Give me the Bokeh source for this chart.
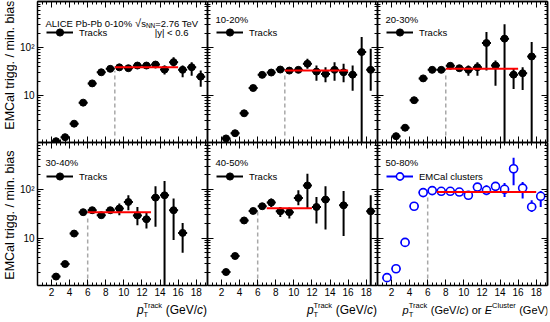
import math
import numpy as np
from bokeh.plotting import figure
from bokeh.layouts import gridplot
from bokeh.models import LinearAxis, LogAxis, FixedTicker, Label, Legend, LegendItem, Range1d
from bokeh.embed import file_html
from bokeh.resources import INLINE

# ------------------------------------------------------------------ data
centrality = ["0-10%", "10-20%", "20-30%", "30-40%", "40-50%", "50-80%"]
bin_half = 0.5

x_c0 = [2.5, 3.5, 4.5, 5.5, 6.5, 7.5, 8.5, 9.5, 10.5, 11.5, 12.5, 13.5, 14.5, 15.5, 16.5, 17.5, 18.5]
y_c0 = [1.14, 1.38, 2.63, 7.2, 18.1, 30.8, 36.3, 39.0, 37.4, 42.5, 42.5, 44.6, 35.0, 50.0, 34.6, 39.2, 25.0]
lo_c0 = [1.08, 1.31, 2.52, 6.9, 17.3, 29.4, 34.5, 36.8, 35.0, 39.6, 39.4, 40.8, 27.6, 40.5, 24.2, 26.2, 15.5]
hi_c0 = [1.2, 1.45, 2.74, 7.5, 18.9, 32.2, 38.1, 41.2, 39.8, 45.4, 45.6, 48.4, 42.6, 63.5, 42.6, 49.9, 33.4]

x_c1 = [2.5, 3.5, 4.5, 5.5, 6.5, 7.5, 8.5, 9.5, 10.5, 11.5, 12.5, 13.5, 14.5, 15.5, 16.5, 17.5, 18.5]
y_c1 = [1.30, 1.67, 4.33, 14.5, 27.2, 30.4, 35.1, 33.4, 34.6, 46.3, 31.8, 28.5, 34.6, 30.8, 27.5, 81.0, 34.6]
lo_c1 = [1.24, 1.6, 4.15, 13.9, 26.0, 29.0, 33.0, 30.5, 31.5, 36.3, 20.6, 19.0, 20.6, 19.0, 12.7, 0.5, 12.7]
hi_c1 = [1.36, 1.74, 4.5, 15.1, 28.4, 31.8, 37.2, 36.5, 38.0, 58.8, 42.6, 39.2, 49.9, 46.2, 42.6, 167.0, 95.3]

x_c2 = [2.5, 3.5, 4.5, 5.5, 6.5, 7.5, 8.5, 9.5, 10.5, 11.5, 12.5, 13.5, 14.5, 15.5, 16.5, 17.5]
y_c2 = [1.45, 2.17, 8.1, 23.0, 34.6, 34.6, 42.0, 37.4, 34.6, 39.2, 125.0, 42.5, 154.0, 27.5, 29.4, 65.6]
lo_c2 = [1.38, 2.06, 7.8, 22.0, 33.0, 33.0, 39.0, 34.0, 26.2, 26.2, 33.4, 16.2, 0.5, 13.8, 13.2, 0.5]
hi_c2 = [1.52, 2.28, 8.4, 24.0, 36.3, 36.3, 45.0, 41.0, 42.6, 49.9, 212.0, 54.2, 308.0, 36.3, 39.2, 131.0]

x_c3 = [2.5, 3.5, 4.5, 5.5, 6.5, 7.5, 8.5, 9.5, 10.5, 11.5, 12.5, 13.5, 14.5, 15.5, 16.5]
y_c3 = [1.63, 2.95, 12.4, 34.0, 37.3, 29.5, 37.3, 40.4, 55.0, 29.1, 24.4, 67.6, 75.5, 37.3, 12.8]
lo_c3 = [1.55, 2.8, 11.8, 32.5, 35.5, 28.0, 31.9, 29.5, 37.3, 18.4, 15.8, 17.0, 0.5, 9.1, 5.0]
hi_c3 = [1.71, 3.1, 13.0, 35.5, 39.1, 31.0, 43.5, 51.0, 75.5, 43.5, 34.4, 115.0, 148.0, 64.5, 20.5]

x_c4 = [2.5, 3.5, 4.5, 5.5, 6.5, 7.5, 8.5, 9.5, 10.5, 11.5, 12.5, 13.5, 15.5, 18.5]
y_c4 = [2.02, 4.3, 23.0, 36.0, 45.0, 53.5, 35.5, 34.0, 66.5, 120.0, 43.5, 61.6, 47.0, 35.5]
lo_c4 = [1.92, 4.1, 22.0, 34.5, 43.0, 43.5, 27.2, 25.2, 47.1, 40.4, 20.0, 15.1, 11.0, 0.5]
hi_c4 = [2.12, 4.5, 24.0, 37.5, 47.0, 64.5, 43.5, 42.4, 95.5, 209.0, 69.7, 115.0, 92.2, 75.5]

x_c5 = [1.5, 2.5, 3.5, 4.5, 5.5, 6.5, 7.5, 8.5, 9.5, 10.5, 11.5, 12.5, 13.5, 14.5, 15.5, 16.5, 17.5, 18.5]
y_c5 = [1.55, 2.36, 8.17, 45.0, 85.7, 94.0, 91.0, 91.0, 88.0, 75.5, 111.0, 95.5, 115.0, 100.0, 264.0, 106.0, 43.5, 72.0]
lo_c5 = [1.5, 2.28, 7.9, 43.5, 83.0, 91.0, 88.0, 88.0, 85.0, 72.5, 88.0, 75.5, 88.0, 69.7, 121.0, 64.5, 34.4, 43.5]
hi_c5 = [1.6, 2.44, 8.45, 46.5, 88.5, 97.0, 94.0, 94.0, 91.0, 78.5, 131.0, 121.0, 141.0, 134.0, 443.0, 141.0, 59.7, 92.2]

fit_lo = [9, 9, 8, 6, 7, 7]
fit_hi = [16, 16, 16, 13, 12, 18]
fit_val = [39.0, 33.4, 36.3, 34.0, 40.8, 88.0]
threshold = [9, 9, 8, 6, 6, 6]

series_label = ["Tracks", "Tracks", "Tracks", "Tracks", "Tracks", "EMCal clusters"]

x_ticks = [2, 4, 6, 8, 10, 12, 14, 16, 18]
x_minor = [v / 2 for v in range(1, 39) if v % 4 != 0]
y_major = [1, 10, 100, 1000]
y_minor = [m * d for d in (1, 10, 100) for m in range(2, 10)]
y_labels = {10: "10", 100: "10\u00b2"}

X_RANGE = (0.45, 19.25)
Y_RANGE = (1.07, 910.0)

# ------------------------------------------------------------------ style / layout
FONT = "Liberation Sans"
FRAME_W = 170
FRAME_H = [141, 143]
STRIP_W = 17
B_LEFT, B_RIGHT, B_TOP, B_BOTTOM = 20, 2, 1, 14
TITLE_H = 22
HEADER_OFF = [18, 20]
LEGEND_OFF = [31, 34]
YTITLE_GAP = [-1, 8]

CW = {" ": 278, "(": 333, ")": 333, "/": 278, ".": 278, "-": 333, "%": 889, "=": 584,
      "|": 260, "<": 584, "A": 667, "C": 722, "E": 667, "G": 778, "I": 278, "L": 556,
      "P": 667, "T": 611, "V": 667, "N": 722, "a": 556, "b": 556, "c": 500, "e": 556,
      "i": 222, "k": 500, "l": 222, "o": 556, "r": 333, "s": 500, "t": 278, "u": 556,
      "y": 500, "p": 556, "\u221a": 549}


def tw(s, size):
    return sum(CW.get(ch, 556) for ch in s) * size / 1000.0


def lab(p, x, y, text, size, style="normal", align="left", baseline="alphabetic", angle=0.0):
    p.add_layout(Label(x=x, y=y, x_units="screen", y_units="screen", text=text,
                       text_font=FONT, text_font_size=f"{size}px", text_font_style=style,
                       text_align=align, text_baseline=baseline, text_color="black",
                       angle=angle))


def add_run(p, x, base, blocks):
    for b in blocks:
        if isinstance(b, (int, float)):
            x += b
            continue
        w = 0
        for (t, s, st, dy) in b:
            lab(p, x, base + dy, t, s, st)
            w = max(w, tw(t, s))
        x += w


def run_width(blocks):
    total = 0
    for b in blocks:
        if isinstance(b, (int, float)):
            total += b
        else:
            total += max(tw(t, s) for (t, s, st, dy) in b)
    return total


def base_axis(ax):
    ax.axis_line_color = "black"
    ax.axis_line_width = 1.5
    ax.major_tick_out = 0
    ax.minor_tick_out = 0
    ax.major_tick_line_color = "black"
    ax.minor_tick_line_color = "black"
    ax.major_tick_line_width = 1
    ax.minor_tick_line_width = 1


def labeled_axis(cls, major, minor, standoff, overrides=None):
    ax = cls(ticker=FixedTicker(ticks=major, minor_ticks=minor))
    if overrides:
        ax.major_label_overrides = overrides
    base_axis(ax)
    ax.major_tick_in = 6
    ax.minor_tick_in = 3
    ax.major_label_text_font = FONT
    ax.major_label_text_font_size = "10px"
    ax.major_label_text_color = "black"
    ax.major_label_standoff = standoff
    return ax


def tick_only_axes(cls, major, minor):
    """Two label-free axes stacked at the same edge: long and short inward ticks."""
    out = []
    for ticks, length in ((major, 6), (minor, 3)):
        ax = cls(ticker=FixedTicker(ticks=[], minor_ticks=ticks))
        base_axis(ax)
        ax.major_tick_in = 0
        ax.minor_tick_in = length
        ax.major_label_standoff = 0
        ax.axis_label_standoff = 0
        out.append(ax)
    return out


def blank_fig(w, h):
    p = figure(width=w, height=h, x_range=Range1d(0, 1), y_range=Range1d(0, 1),
               x_axis_location=None, y_axis_location=None,
               output_backend="svg", toolbar_location=None,
               min_border_left=0, min_border_right=0, min_border_top=0, min_border_bottom=0)
    p.outline_line_color = None
    p.grid.visible = False
    p.background_fill_color = "white"
    p.border_fill_color = "white"
    return p


def make_panel(i):
    row, col = divmod(i, 3)
    fh = FRAME_H[row]
    bl = B_LEFT if col == 0 else 0
    br = B_RIGHT if col == 2 else 0
    bt = B_TOP if row == 0 else 0
    bb = B_BOTTOM if row == 1 else 0
    p = figure(width=FRAME_W + bl + br, height=fh + bt + bb,
               x_range=Range1d(*X_RANGE), y_range=Range1d(*Y_RANGE),
               y_axis_type="log", x_axis_location=None, y_axis_location=None,
               output_backend="svg", toolbar_location=None,
               min_border_left=bl, min_border_right=br,
               min_border_top=bt, min_border_bottom=bb)
    p.outline_line_color = None
    p.grid.visible = False
    p.background_fill_color = "white"
    p.border_fill_color = "white"

    if row == 1:
        p.add_layout(labeled_axis(LinearAxis, x_ticks, x_minor, 2), "below")
    else:
        for ax in tick_only_axes(LinearAxis, x_ticks, x_minor):
            p.add_layout(ax, "below")
    for ax in tick_only_axes(LinearAxis, x_ticks, x_minor):
        p.add_layout(ax, "above")
    if col == 0:
        p.add_layout(labeled_axis(LogAxis, y_major, y_minor, 3, y_labels), "left")
    else:
        for ax in tick_only_axes(LogAxis, y_major, y_minor):
            p.add_layout(ax, "left")
    for ax in tick_only_axes(LogAxis, y_major, y_minor):
        p.add_layout(ax, "right")

    xa = np.array(globals()[f"x_c{i}"])
    ya = np.array(globals()[f"y_c{i}"])
    lo = globals()[f"lo_c{i}"]
    hi = globals()[f"hi_c{i}"]

    clusters = (i == 5)
    col_pts = "#0000ff" if clusters else "black"

    p.segment(x0=[threshold[i]], y0=[Y_RANGE[0]], x1=[threshold[i]], y1=[fit_val[i] * 0.85],
              line_color="#a8a8a8", line_width=1.5, line_dash="4 3")

    p.segment(x0=xa, y0=lo, x1=xa, y1=hi, line_color=col_pts, line_width=2)
    hbar = p.segment(x0=xa - bin_half, y0=ya, x1=xa + bin_half, y1=ya,
                     line_color=col_pts, line_width=2)
    if clusters:
        sc = p.scatter(xa, ya, marker="circle", size=8, fill_color="white",
                       line_color=col_pts, line_width=1.6)
    else:
        sc = p.scatter(xa, ya, marker="circle", size=7, fill_color="black", line_color="black")

    p.line([fit_lo[i], fit_hi[i]], [fit_val[i], fit_val[i]], line_color="#ff0000", line_width=2)

    leg = Legend(items=[LegendItem(label=series_label[i], renderers=[hbar, sc])],
                 location=(9, fh - LEGEND_OFF[row] - 9), orientation="vertical",
                 glyph_width=27, glyph_height=18, label_height=18, label_standoff=6,
                 padding=0, spacing=0, margin=0,
                 label_text_font=FONT, label_text_font_size="9.5px",
                 label_text_color="black",
                 border_line_alpha=0, background_fill_alpha=0)
    p.add_layout(leg)

    if i == 0:
        blocks = [[("ALICE Pb-Pb " + centrality[i], 9.5, "normal", 0)], 3,
                  [("\u221a", 11, "normal", 0)],
                  [("s", 9.5, "normal", 0)],
                  [("NN", 6.5, "normal", -2.5)],
                  [("=2.76 TeV", 9.5, "normal", 0)]]
        add_run(p, 8, fh - HEADER_OFF[row] - 3.5, blocks)
        lab(p, FRAME_W - 19, fh - LEGEND_OFF[row], "|y| < 0.6", 9.5, align="right", baseline="middle")
    else:
        lab(p, 8, fh - HEADER_OFF[row], centrality[i], 9.5, baseline="middle")
    return p


def make_ytitle(row):
    h = FRAME_H[row] + (B_TOP if row == 0 else B_BOTTOM)
    p = blank_fig(STRIP_W, h)
    # the strip's frame is aligned with the panel frames of its row
    lab(p, 9.5, FRAME_H[row] - YTITLE_GAP[row], "EMCal trigg. / min. bias", 12.5, align="right",
        baseline="middle", angle=math.pi / 2)
    return p


def make_xtitle(col):
    w = FRAME_W + (B_LEFT if col == 0 else 0) + (B_RIGHT if col == 2 else 0)
    p = blank_fig(w, TITLE_H)
    if col == 2:
        fs, ss = 11, 7.5
    else:
        fs, ss = 12, 7.5
    ptrack = [[("p", fs, "italic", 0)], [("T", ss, "normal", -4), ("Track", ss, "normal", 5)], 3.3,
              [("(GeV/", fs, "normal", 0)], [("c", fs, "italic", 0)]]
    if col == 2:
        blocks = ptrack + [[(") or", fs, "normal", 0)], 3.3,
                           [("E", fs, "italic", 0)], [("Cluster", ss, "normal", 5)], 3.3,
                           [("(GeV)", fs, "normal", 0)]]
        right = FRAME_W + 1
    else:
        blocks = ptrack + [[(")", fs, "normal", 0)]]
        right = FRAME_W - 0.5
    add_run(p, right - run_width(blocks), 11.5, blocks)
    return p


panels = [make_panel(i) for i in range(6)]
rows = [
    [make_ytitle(0)] + panels[0:3],
    [make_ytitle(1)] + panels[3:6],
    [None, make_xtitle(0), make_xtitle(1), make_xtitle(2)],
]
grid = gridplot(rows, toolbar_location=None)

open("out.html", "w").write(file_html(grid, INLINE))
